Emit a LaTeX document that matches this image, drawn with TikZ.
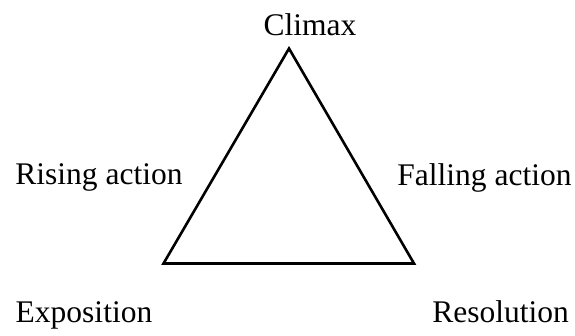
\documentclass[tikz,border=0pt]{standalone}
\usepackage{fontspec}
\setmainfont{Liberation Serif}
\begin{document}
\begin{tikzpicture}[x=1pt,y=-1pt,
  lbl/.style={font=\fontsize{31.5}{36}\selectfont, inner sep=0pt, anchor=base},
  tri/.style={draw=black, line width=2.6pt, line join=miter}]
\useasboundingbox (0,0) rectangle (575,335);
\coordinate (top) at (289,48.5);
\coordinate (bl) at (163.5,263.5);
\coordinate (br) at (414,263.5);
\draw[tri] (top) -- (bl) -- (br) -- cycle;
\node[lbl] (climax) at (310,35) {Climax};
\node[lbl] (rising) at (99,184.5) {Rising action};
\node[lbl] (falling) at (484.5,185.5) {Falling action};
\node[lbl] (expo) at (84,322.7) {Exposition};
\node[lbl] (reso) at (500.5,322.7) {Resolution};
\end{tikzpicture}
\end{document}
